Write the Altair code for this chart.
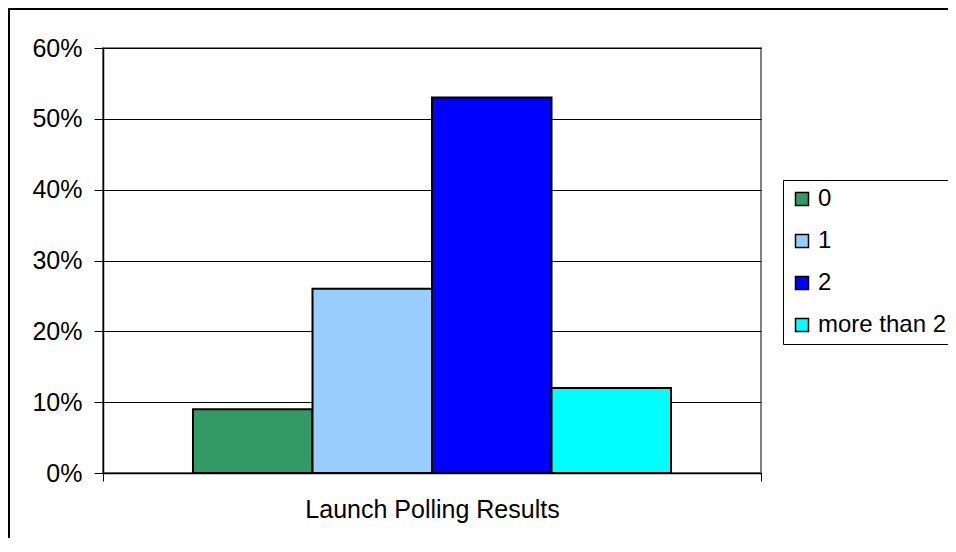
import altair as alt
import pandas as pd

series = ["0", "1", "2", "more than 2"]
values = [0.09, 0.26, 0.53, 0.12]
colors = ["#339966", "#99CCFF", "#0000FF", "#00FFFF"]
group = "Launch Polling Results"
y_ticks = [0, 0.1, 0.2, 0.3, 0.4, 0.5, 0.6]

df = pd.DataFrame({"group": [group] * len(series), "series": series, "value": values})

FONT = "Liberation Sans"

bars = alt.Chart(df).mark_bar(stroke="black", strokeWidth=2).encode(
    x=alt.X("group:N", title=None,
            scale=alt.Scale(paddingInner=0, paddingOuter=0),
            axis=alt.Axis(labelAngle=0, tickBand="extent", tickSize=8, tickColor="#000000",
                          labelPadding=16, labelFontSize=25, labelColor="#000000",
                          labelLimit=600,
                          domainColor="#000000", domainWidth=1.5, grid=False)),
    xOffset=alt.XOffset("series:N", sort=series,
                        scale=alt.Scale(paddingInner=0, paddingOuter=0.753)),
    y=alt.Y("value:Q", title=None,
            scale=alt.Scale(domain=[0, 0.6], nice=False),
            axis=alt.Axis(values=y_ticks, format=".0%", tickSize=9, labelPadding=12,
                          labelFontSize=25, labelColor="#000000", tickColor="#000000",
                          domainColor="#000000", domainWidth=1.5,
                          grid=True, gridColor="#000000", gridWidth=1)),
    color=alt.Color("series:N", sort=series,
                    scale=alt.Scale(domain=series, range=colors),
                    legend=alt.Legend(title=None, orient="none", legendX=680, legendY=132,
                                      symbolType="square", symbolSize=169,
                                      symbolStrokeColor="#000000", symbolStrokeWidth=1.5,
                                      labelFontSize=24, labelColor="#000000", labelFont=FONT,
                                      labelOffset=4, rowPadding=18, padding=7,
                                      strokeColor="#000000", fillColor="#ffffff",
                                      labelLimit=400)),
)

frame = alt.Chart(alt.Data(values=[{"a": 1}])).mark_rect(
    fill="transparent", stroke="#000000", strokeWidth=2
).encode(
    x=alt.value(-94), x2=alt.value(1200), y=alt.value(-39), y2=alt.value(1200)
)

chart = alt.layer(bars, frame).properties(
    width=658, height=425,
    autosize=alt.AutoSizeParams(type="none"),
    padding={"left": 95, "top": 40, "right": 187, "bottom": 65},
).configure(font=FONT).configure_view(
    stroke="#808080", strokeWidth=2
).configure_axis(labelFont=FONT)

chart.save("out.html", embed_options={"renderer": "svg", "actions": False})
